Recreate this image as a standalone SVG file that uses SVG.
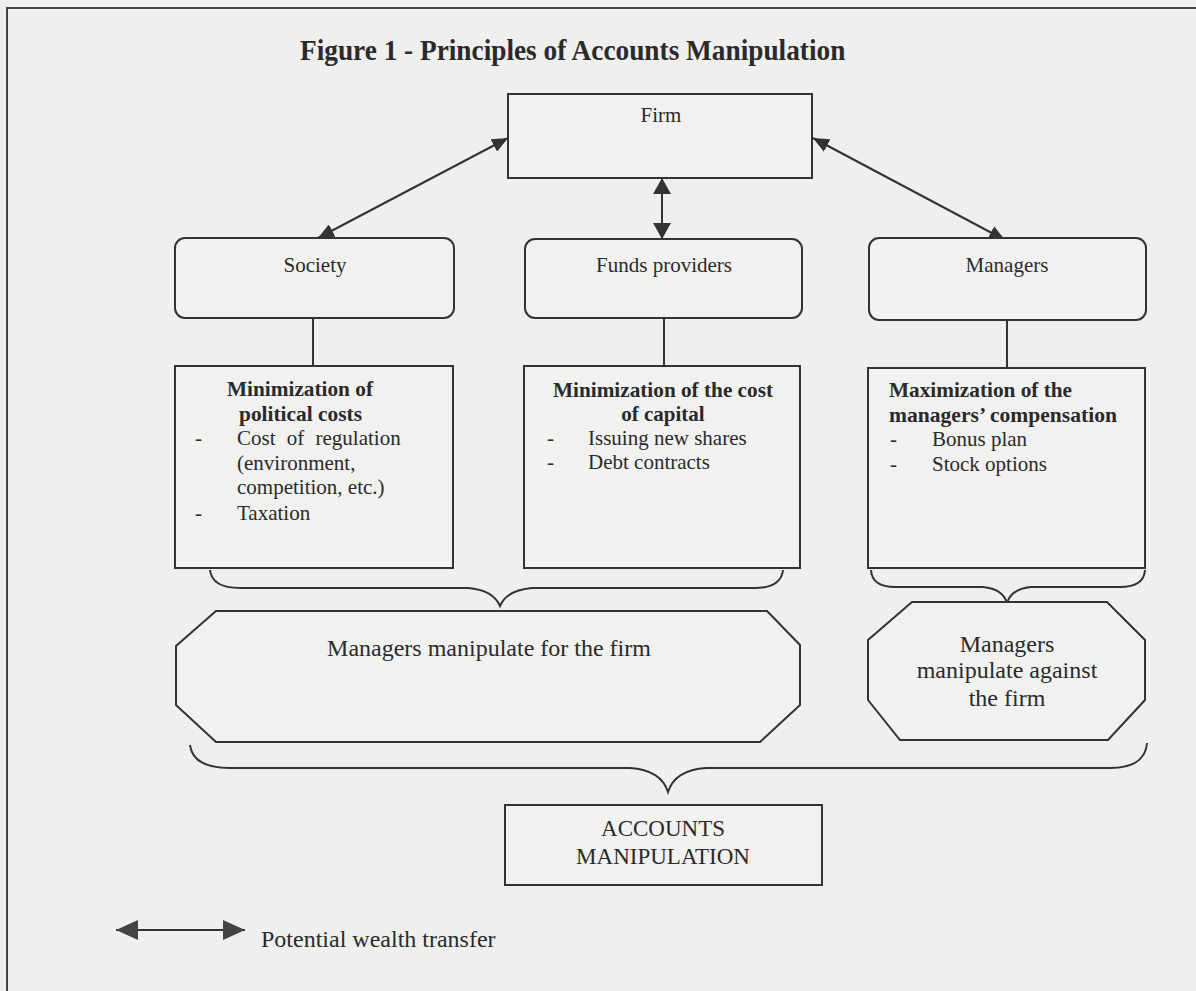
<svg xmlns="http://www.w3.org/2000/svg" width="1196" height="991" viewBox="0 0 1196 991">
<defs>
<style>
text{font-family:"Liberation Serif","Times New Roman",serif;fill:#2a2a2a;font-size:21px}
.b{font-weight:bold}
.c{text-anchor:middle}
.t{font-size:30px}
.l{font-size:24px}
.a{font-size:23px}
.box{fill:#f1f1f0;stroke:#333;stroke-width:2}
.ln{fill:none;stroke:#333;stroke-width:2}
.ar{fill:none;stroke:#333;stroke-width:2}
</style>
<marker id="ah" viewBox="0 0 16 14" refX="16" refY="7" markerWidth="16" markerHeight="14" markerUnits="userSpaceOnUse" orient="auto-start-reverse"><path d="M0,0 L16,7 L0,14 z" fill="#333"/></marker>
<marker id="ahb" viewBox="0 0 16 18" refX="16" refY="9" markerWidth="16" markerHeight="18" markerUnits="userSpaceOnUse" orient="auto-start-reverse"><path d="M0,0 L16,9 L0,18 z" fill="#333"/></marker>
<marker id="ahl" viewBox="0 0 22 20" refX="22" refY="10" markerWidth="22" markerHeight="20" markerUnits="userSpaceOnUse" orient="auto-start-reverse"><path d="M0,0 L22,10 L0,20 z" fill="#444"/></marker>
</defs>
<rect x="0" y="0" width="1196" height="991" fill="#efefee"/>
<path d="M7,991 L7,8 L1196,8" fill="none" stroke="#444" stroke-width="2"/>
<text class="b t" transform="translate(300,60) scale(0.91,1)" x="0" y="0">Figure 1 - Principles of Accounts Manipulation</text>

<g id="connectors">
<line class="ar" x1="318" y1="238" x2="508" y2="138" marker-start="url(#ah)" marker-end="url(#ah)"/>
<line class="ar" x1="813" y1="138" x2="1005" y2="240" marker-start="url(#ah)" marker-end="url(#ah)"/>
<line class="ar" x1="662" y1="178" x2="662" y2="239" stroke-width="3" marker-start="url(#ahb)" marker-end="url(#ahb)"/>
<line class="ln" x1="313" y1="318" x2="313" y2="366"/>
<line class="ln" x1="664" y1="318" x2="664" y2="366"/>
<line class="ln" x1="1007" y1="320" x2="1007" y2="368"/>
<path class="ln" d="M210,570 Q212,588 240,588 L468,588 Q493,590 500,606 Q507,590 532,588 L755,588 Q781,588 783,570"/>
<path class="ln" d="M871,570 Q872,587 895,587 L983,587 Q1003,589 1007,603 Q1011,589 1031,587 L1120,587 Q1144,587 1145,570"/>
<path class="ln" d="M190,745 Q193,768 230,768 L630,768 Q661,770 668,792 Q675,770 706,768 L1110,768 Q1145,768 1147,743"/>
</g>

<g id="firm">
<rect class="box" x="508" y="94" width="304" height="84"/>
<text class="c" x="661" y="122">Firm</text>
</g>
<g id="society">
<rect class="box" x="175" y="238" width="279" height="80" rx="10"/>
<text class="c" x="315" y="272">Society</text>
</g>
<g id="funds">
<rect class="box" x="525" y="239" width="277" height="79" rx="10"/>
<text class="c" x="664" y="272">Funds providers</text>
</g>
<g id="managers">
<rect class="box" x="869" y="238" width="277" height="82" rx="10"/>
<text class="c" x="1007" y="272">Managers</text>
</g>

<g id="political">
<rect class="box" x="175" y="366" width="278" height="202"/>
<text class="b" x="227" y="396" textLength="146" lengthAdjust="spacingAndGlyphs">Minimization of</text>
<text class="b" x="239" y="421" textLength="123" lengthAdjust="spacingAndGlyphs">political costs</text>
<text x="195" y="445">-</text>
<text x="237" y="445" word-spacing="6">Cost of regulation</text>
<text x="237" y="470">(environment,</text>
<text x="237" y="494">competition, etc.)</text>
<text x="195" y="520">-</text>
<text x="237" y="520">Taxation</text>
</g>

<g id="capital">
<rect class="box" x="524" y="366" width="276" height="202"/>
<text class="b c" x="663" y="397" textLength="220" lengthAdjust="spacingAndGlyphs">Minimization of the cost</text>
<text class="b c" x="663" y="421">of capital</text>
<text x="547" y="445">-</text>
<text x="588" y="445">Issuing new shares</text>
<text x="547" y="469">-</text>
<text x="588" y="469">Debt contracts</text>
</g>

<g id="compensation">
<rect class="box" x="868" y="368" width="277" height="200"/>
<text class="b" x="889" y="397" textLength="183" lengthAdjust="spacingAndGlyphs">Maximization of the</text>
<text class="b" x="889" y="422" textLength="228" lengthAdjust="spacingAndGlyphs">managers’ compensation</text>
<text x="890" y="446">-</text>
<text x="932" y="446">Bonus plan</text>
<text x="890" y="471">-</text>
<text x="932" y="471">Stock options</text>
</g>

<g id="for-firm">
<path class="box" d="M216,611 L767,611 L800,645 L800,705 L760,742 L216,742 L176,705 L176,646 Z"/>
<text class="c l" x="489" y="656">Managers manipulate for the firm</text>
</g>

<g id="against-firm">
<path class="box" d="M912,602 L1107,602 L1145,640 L1145,700 L1108,740 L900,740 L868,700 L868,640 Z"/>
<text class="c l" x="1007" y="652">Managers</text>
<text class="c l" x="1007" y="678">manipulate against</text>
<text class="c l" x="1007" y="706">the firm</text>
</g>

<g id="accounts">
<rect class="box" x="505" y="805" width="317" height="80"/>
<text class="c a" x="663" y="836">ACCOUNTS</text>
<text class="c a" x="663" y="864">MANIPULATION</text>
</g>

<g id="legend">
<line class="ar" x1="116" y1="930" x2="245" y2="930" stroke-width="3" marker-start="url(#ahl)" marker-end="url(#ahl)"/>
<text class="l" x="261" y="947">Potential wealth transfer</text>
</g>
</svg>
